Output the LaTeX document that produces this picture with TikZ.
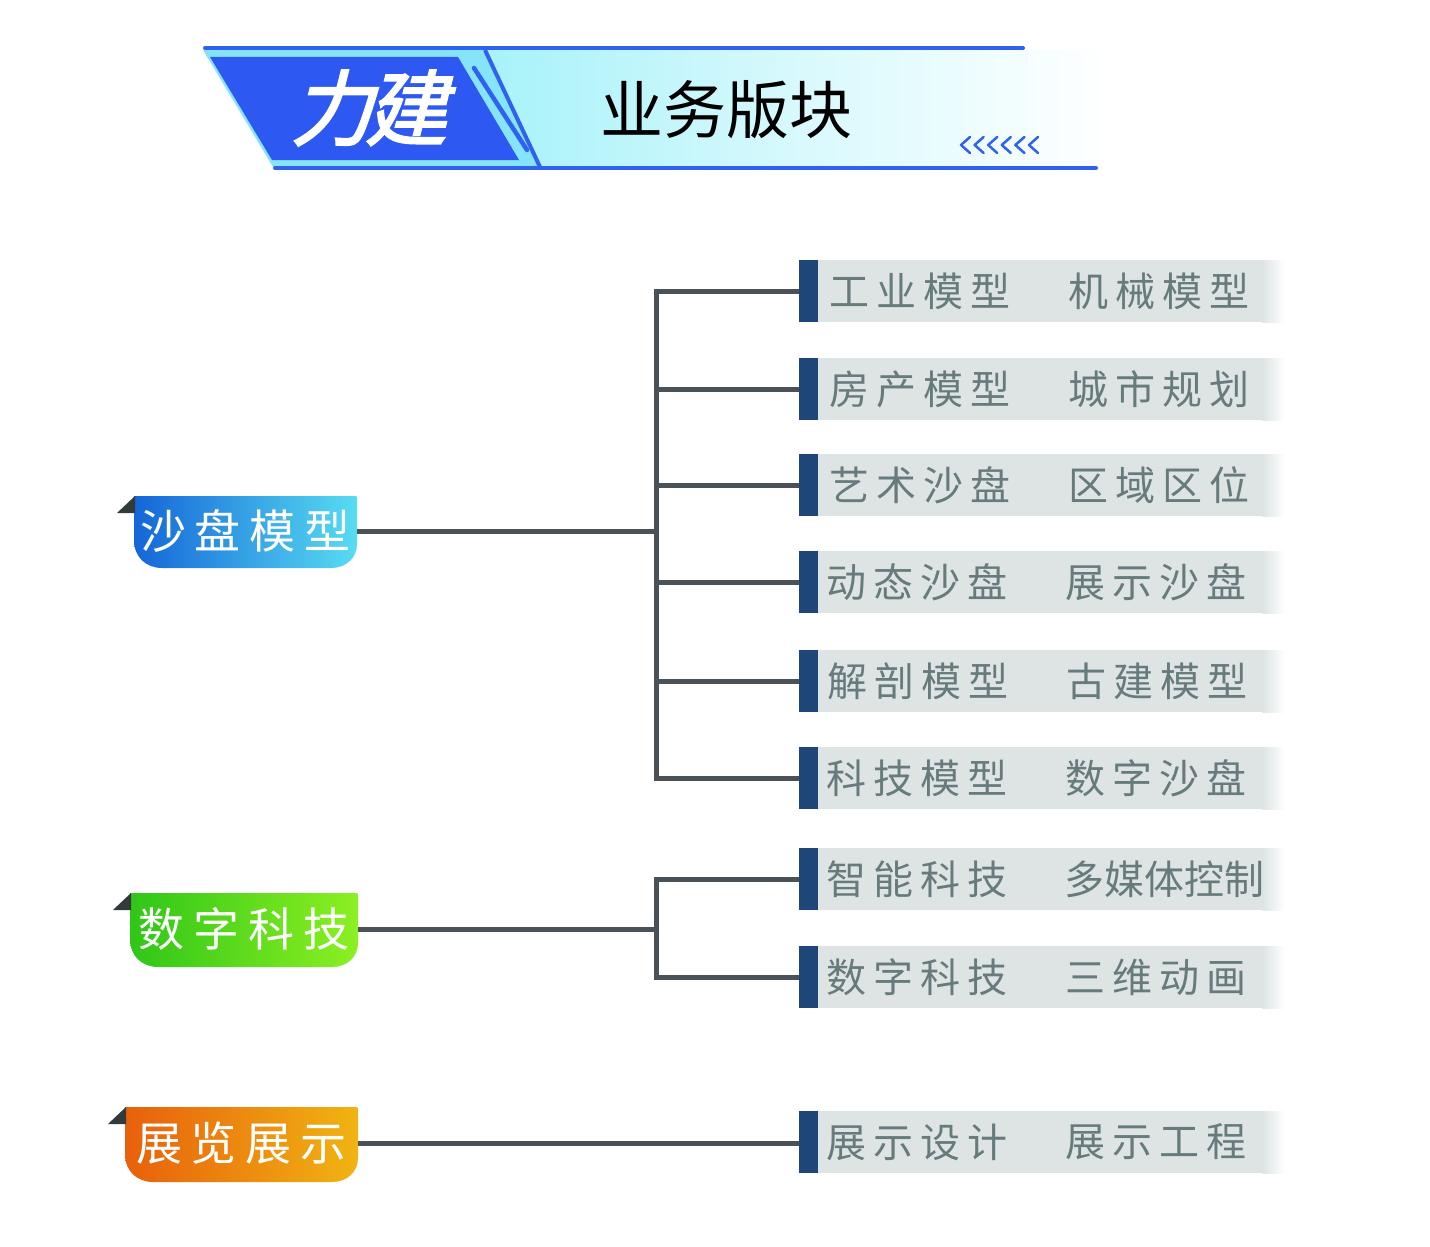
\documentclass[tikz,border=0pt]{standalone}
\usepackage{fontspec}
\setmainfont{Noto Sans CJK SC}
\newfontfamily\calfont[FakeSlant=0.25,FakeBold=2.5]{Noto Sans CJK SC}
\usetikzlibrary{calc}
\definecolor{hblue}{HTML}{2D58F2}
\definecolor{hline}{HTML}{2F62F0}
\definecolor{hcyan}{HTML}{86E4F8}
\definecolor{hcyan2}{HTML}{A8F2FA}
\definecolor{barblue}{HTML}{1F4678}
\definecolor{boxgray}{HTML}{DEE4E4}
\definecolor{txtgray}{HTML}{677B7D}
\definecolor{linegray}{HTML}{4B5257}
\definecolor{tabdark}{HTML}{333A3C}
\definecolor{bL}{HTML}{1466D8}
\definecolor{bR}{HTML}{58DCF2}
\definecolor{gL}{HTML}{30C618}
\definecolor{gR}{HTML}{8CF022}
\definecolor{oL}{HTML}{E8600C}
\definecolor{oR}{HTML}{F0B412}
\newcommand\gk{\hspace{7pt}}
\newcommand\gl{\hspace{9pt}}
\newcommand\labshape[6]{%
  \shade[left color=#5,right color=#6] (#1,#3) -- (#2-3,#3) .. controls (#2,#3) .. (#2,#3+3) -- (#2,#4-24)
    .. controls (#2,#4-10) and (#2-11,#4) .. (#2-26,#4) -- (#1+28,#4) .. controls (#1+12,#4) and (#1,#4-11) .. (#1,#4-28) -- cycle;
  \fill[tabdark] (#1-17,#3+17) -- (#1+1,#3) -- (#1+1,#3+17) -- cycle;
}
\tikzset{
  rowbox/.style={minimum width=486pt, minimum height=62pt, inner sep=0pt, fill=white,
    path picture={
      \fill[barblue] (path picture bounding box.south west) rectangle ([xshift=19pt]path picture bounding box.north west);
      \fill[boxgray] ([xshift=19pt]path picture bounding box.south west) rectangle ([xshift=-22pt]path picture bounding box.north east);
      \shade[left color=boxgray,right color=white] ([xshift=-22.5pt]path picture bounding box.south east) rectangle (path picture bounding box.north east);
    }},
  rowtxt/.style={anchor=west, inner sep=0pt, text=txtgray, font=\fontsize{40pt}{44pt}\selectfont},
  labbox/.style={minimum height=72pt, inner sep=0pt, text=white, font=\fontsize{46pt}{50pt}\selectfont},
  conn/.style={draw=linegray, line width=5pt},
  hl/.style={draw=hline, line width=4pt, line cap=round},
}
\begin{document}
\begin{tikzpicture}[x=1pt,y=-1pt]
\useasboundingbox (0,0) rectangle (1430,1247);
\fill[white] (0,0) rectangle (1430,1247);

% ---------- header ----------
\fill[hcyan] (203,50) -- (486,50) -- (541,167) -- (273,167) -- cycle;
\shade[left color=hcyan2, right color=white, middle color=hcyan2!45!white] (486,50) -- (1110,50) -- (1110,167) -- (541,167) -- cycle;
\fill[hblue] (210,57) -- (458,57) -- (519,160) -- (272,160) -- cycle;
\draw[draw=hline, line width=4pt] (485,50) -- (540,167);
\draw[hl, line width=4.5pt] (474,68) -- (527,150);
\draw[hl] (205,48) -- (1023,48);
\draw[hl] (275,168) -- (1096,168);
\foreach \i in {0,...,5}{
  \draw[draw=hline, line width=2.5pt, line cap=round, line join=round]
    ({970+13.6*\i},137) -- ({961+13.6*\i},145) -- ({970+13.6*\i},153);
}
\node[inner sep=0pt, text=white, font=\calfont\fontsize{82pt}{86pt}\selectfont] (logo) at (369,108) {力\hspace{-8pt}建};
\node[inner sep=0pt, text=black, font=\fontsize{63pt}{66pt}\selectfont] (title) at (726,110) {业务版块};

% ---------- left labels ----------
\labshape{134}{357}{496}{568}{bL}{bR}
\labshape{130}{358}{893}{967}{gL}{gR}
\labshape{125}{358}{1107}{1182}{oL}{oR}
\node[labbox, minimum width=223pt] (sp) at (245.5,531) {沙\gl 盘\gl 模\gl 型};
\node[labbox, minimum width=228pt] (ds) at (244,929) {数\gl 字\gl 科\gl 技};
\node[labbox, minimum width=233pt] (zl) at (241.5,1143) {展\gl 览\gl 展\gl 示};

% ---------- right rows ----------
\node[rowbox] (r1) at (1042,291) {};
\node[rowbox] (r2) at (1042,389) {};
\node[rowbox] (r3) at (1042,485) {};
\node[rowbox] (r4) at (1042,582) {};
\node[rowbox] (r5) at (1042,681) {};
\node[rowbox] (r6) at (1042,778) {};
\node[rowbox] (r7) at (1042,879) {};
\node[rowbox] (r8) at (1042,977) {};
\node[rowbox] (r9) at (1042,1142) {};

\node[rowtxt] (r1a) at (829,291) {工\gk 业\gk 模\gk 型};
\node[rowtxt] (r1b) at (1068,291) {机\gk 械\gk 模\gk 型};
\node[rowtxt] (r2a) at (829,389) {房\gk 产\gk 模\gk 型};
\node[rowtxt] (r2b) at (1068,389) {城\gk 市\gk 规\gk 划};
\node[rowtxt] (r3a) at (829,485) {艺\gk 术\gk 沙\gk 盘};
\node[rowtxt] (r3b) at (1068,485) {区\gk 域\gk 区\gk 位};
\node[rowtxt] (r4a) at (826,582) {动\gk 态\gk 沙\gk 盘};
\node[rowtxt] (r4b) at (1065,582) {展\gk 示\gk 沙\gk 盘};
\node[rowtxt] (r5a) at (827,681) {解\gk 剖\gk 模\gk 型};
\node[rowtxt] (r5b) at (1066,681) {古\gk 建\gk 模\gk 型};
\node[rowtxt] (r6a) at (826,778) {科\gk 技\gk 模\gk 型};
\node[rowtxt] (r6b) at (1065,778) {数\gk 字\gk 沙\gk 盘};
\node[rowtxt] (r7a) at (826,879) {智\gk 能\gk 科\gk 技};
\node[rowtxt] (r7b) at (1064,879) {多媒体控制};
\node[rowtxt] (r8a) at (826,977) {数\gk 字\gk 科\gk 技};
\node[rowtxt] (r8b) at (1065,977) {三\gk 维\gk 动\gk 画};
\node[rowtxt] (r9a) at (826,1142) {展\gk 示\gk 设\gk 计};
\node[rowtxt] (r9b) at (1065,1142) {展\gk 示\gk 工\gk 程};

% ---------- connectors ----------
\coordinate (t1) at (656,531);
\coordinate (t2) at (656,929);
\draw[conn, line join=miter] (r1.west) -- (r1.west -| t1) -- (r6.west -| t1) -- (r6.west);
\foreach \r in {r2,r3,r4,r5}{\draw[conn] (\r.west -| t1) -- (\r.west);}
\draw[conn] (sp.east) -- (t1);
\draw[conn, line join=miter] (r7.west) -- (r7.west -| t2) -- (r8.west -| t2) -- (r8.west);
\draw[conn] (ds.east) -- (t2);
\draw[conn] (zl.east) -- (zl.east -| r9.west);
\end{tikzpicture}
\end{document}
